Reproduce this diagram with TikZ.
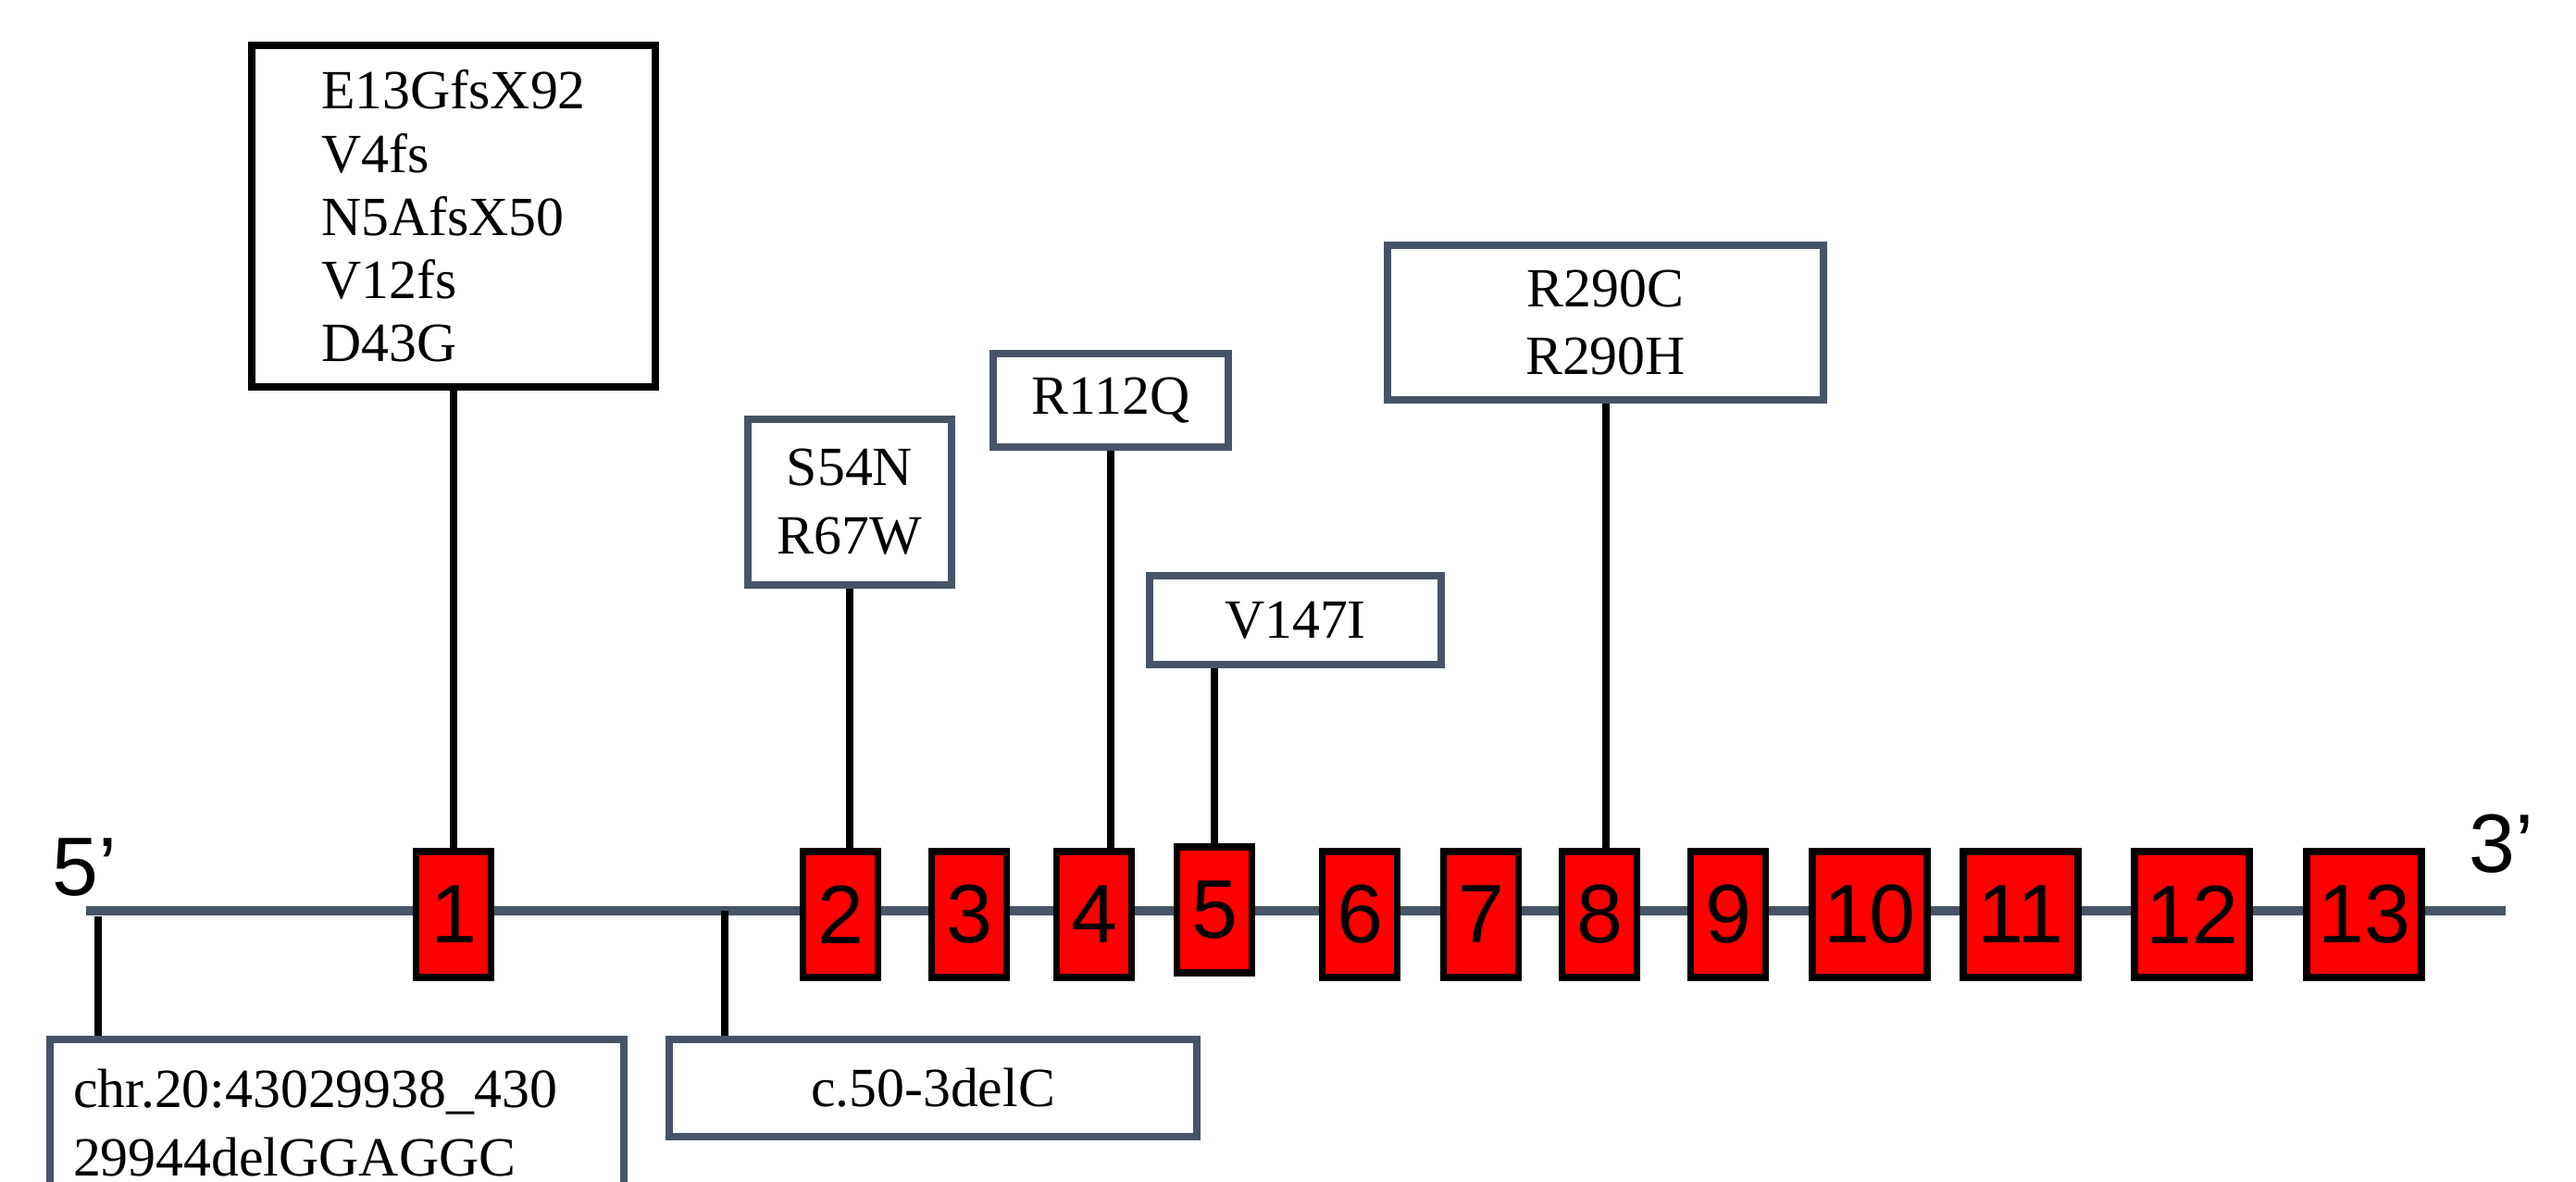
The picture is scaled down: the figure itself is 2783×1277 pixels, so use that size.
\documentclass[tikz,border=0pt]{standalone}
\usepackage{fontspec}
\setmainfont{Liberation Serif}
\newfontfamily\exonfont{Liberation Sans}
\definecolor{slate}{RGB}{71,84,102}

\begin{document}
\begin{tikzpicture}[x=0.01cm, y=-0.01cm,
    exon/.style = {draw, fill=red, line width=0.075cm, minimum width=0.81cm, minimum height=1.36cm, inner sep=0pt, font=\exonfont\fontsize{25.5}{28}\selectfont},
    wide/.style = {minimum width=1.24cm},
    mut/.style = {draw=slate, fill=white, line width=0.08cm, inner sep=0pt, align=center, font=\fontsize{17}{21}\selectfont},
    stem/.style = {line width=0.08cm},
    prime/.style = {anchor=base west, inner sep=0pt, font=\exonfont\fontsize{25.5}{28}\selectfont}]
    \useasboundingbox (0,0) rectangle (2783,1277);
    % gene backbone
    \draw[slate, line width=0.1cm] (93,984) -- (2707,984);
    \node[prime] (p5) at (56,968) {5’};
    \node[prime] (p3) at (2667,943) {3’};
    % exons
    \node[exon] (e1) at (490,988) {1};
    \node[exon] (e2) at (908,988) {2};
    \node[exon] (e3) at (1047,988) {3};
    \node[exon] (e4) at (1182,988) {4};
    \node[exon] (e5) at (1312,983) {5};
    \node[exon] (e6) at (1469,988) {6};
    \node[exon] (e7) at (1600,988) {7};
    \node[exon] (e8) at (1728,988) {8};
    \node[exon] (e9) at (1867,988) {9};
    \node[exon, wide] (e10) at (2020,988) {10};
    \node[exon, wide] (e11) at (2183,988) {11};
    \node[exon, wide] (e12) at (2368,988) {12};
    \node[exon, wide] (e13) at (2554,988) {13};
    % variants above the gene
    \node[mut, draw=black, minimum width=4.36cm, minimum height=3.69cm, align=left, font=\fontsize{17}{19.4}\selectfont] (m1) at (490,233.5) {E13GfsX92\\V4fs\\N5AfsX50\\V12fs\\D43G};
    \node[mut, minimum width=2.20cm, minimum height=1.79cm] (s54) at (918,542.5) {S54N\\R67W};
    \node[mut, minimum width=2.54cm, minimum height=1.01cm] (r112) at (1200,432.5) {R112Q};
    \node[mut, minimum width=3.15cm, minimum height=0.96cm] (v147) at (1399.5,670) {V147I};
    \node[mut, minimum width=4.71cm, minimum height=1.67cm] (r290) at (1734.5,348.5) {R290C\\R290H};
    \draw[stem] (m1.south) -- (m1.south |- e1.north);
    \draw[stem] (s54.south) -- (s54.south |- e2.north);
    \draw[stem] (r112.south) -- (r112.south |- e4.north);
    \draw[stem] (e5.north) -- (e5.north |- v147.south);
    \draw[stem] (r290.south) -- (r290.south |- e8.north);
    % variants below the gene
    \coordinate (cut1) at (106,990);
    \coordinate (cut2) at (783,984);
    \node[mut, anchor=north west, align=left, text width=5.7cm, inner xsep=0.25cm, minimum height=1.80cm] (chr) at (50,1119) {chr.20:43029938\_430\\29944delGGAGGC};
    \node[mut, minimum width=5.70cm, minimum height=1.05cm] (c50) at (1008,1175.5) {c.50-3delC};
    \draw[stem] (cut1) -- (cut1 |- chr.north);
    \draw[stem] (cut2) -- (cut2 |- c50.north);
\end{tikzpicture}
\end{document}
